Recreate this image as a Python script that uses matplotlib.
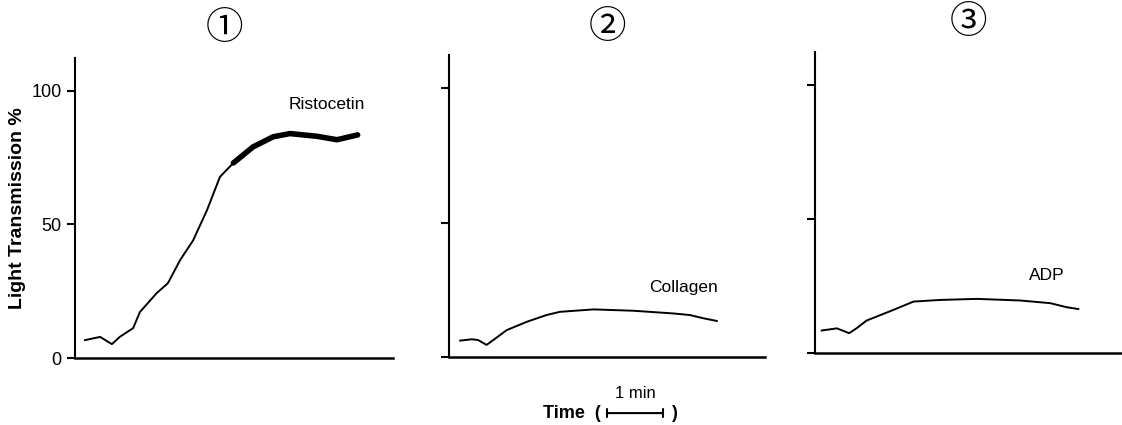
import matplotlib.pyplot as plt
import numpy as np
from matplotlib.transforms import blended_transform_factory

plt.rcParams['font.family'] = ['Liberation Sans', 'DejaVu Sans']

# time in minutes, light transmission in %
t_risto = [0.18, 0.45, 0.66, 0.80, 1.04, 1.16, 1.46, 1.66, 1.88, 2.11, 2.36,
           2.59, 2.83, 3.18, 3.54, 3.84, 4.32, 4.68, 5.05]
v_risto = [6.7, 7.9, 5.2, 7.9, 11.2, 17.2, 24.3, 28.0, 36.7, 44.0, 55.4,
           67.8, 73.0, 79.0, 82.8, 84.0, 83.0, 81.7, 83.5]

t_coll = [0.20, 0.41, 0.52, 0.67, 0.79, 1.03, 1.39, 1.74, 1.98, 2.58, 3.29,
          4.00, 4.30, 4.54, 4.78]
v_coll = [6.1, 6.6, 6.3, 4.5, 6.3, 10.0, 13.1, 15.6, 16.8, 17.7, 17.2,
          16.2, 15.6, 14.4, 13.4]

t_adp = [0.12, 0.39, 0.61, 0.74, 0.92, 1.40, 1.76, 2.23, 2.89, 3.66, 4.20,
         4.49, 4.70]
v_adp = [8.4, 9.2, 7.4, 9.2, 12.1, 16.1, 19.2, 19.8, 20.2, 19.6, 18.6,
         17.1, 16.4]

panels = ["\u2460", "\u2461", "\u2462"]
agents = ["Ristocetin", "Collagen", "ADP"]
label_pos = [(4.5, 95), (4.18, 26), (4.13, 29)]
yticks = [0, 50, 100]
ytick_labels = ["0", "50", "100"]

fig = plt.figure(figsize=(11.22, 4.25), dpi=100)
rects = [
    [0.0668, 0.1576, 0.2834, 0.706],
    [0.4002, 0.1600, 0.2816, 0.7106],
    [0.7264, 0.1694, 0.2736, 0.708],
]
title_y = [0.934, 0.936, 0.948]
xmax = [5.68, 5.64, 5.48]
series = [(t_risto, v_risto), (t_coll, v_coll), (t_adp, v_adp)]

axes = []
for i, rect in enumerate(rects):
    ax = fig.add_axes(rect)
    t, v = series[i]
    ax.plot(t, v, color="black", lw=1.4)
    if i == 0:
        # noisy plateau shows as a thick band
        t_arr = np.array(t)
        m = t_arr >= 2.83
        ax.plot(t_arr[m], np.array(v)[m], color="black", lw=4,
                solid_capstyle="round")
    ax.set_xlim(0, xmax[i])
    ax.set_ylim(0, 112.3)
    ax.spines["top"].set_visible(False)
    ax.spines["right"].set_visible(False)
    ax.spines["left"].set_linewidth(1.5)
    ax.spines["bottom"].set_linewidth(1.8)
    ax.set_xticks([])
    ax.set_yticks(yticks)
    ax.tick_params(axis="y", direction="out", length=6, width=1.5)
    if i == 0:
        ax.set_yticklabels(ytick_labels, fontsize=13)
        ax.set_ylabel("Light Transmission %", fontsize=14, fontweight="bold",
                      labelpad=4)
    else:
        ax.set_yticklabels([])
    lx, ly = label_pos[i]
    ax.text(lx, ly, agents[i], fontsize=12.5, ha="center", va="center")
    cx = rect[0] + rect[2] * 0.47 if i == 0 else rect[0] + rect[2] * 0.5
    fig.text(cx, title_y[i], panels[i], fontsize=27, ha="center", va="center",
             family=["Noto Sans CJK JP", "DejaVu Sans"])
    axes.append(ax)

# x-axis label with 1 min scale bar
tr = blended_transform_factory(axes[1].transData, fig.transFigure)
bar_start = 2.82
axes[1].annotate("", xy=(bar_start, 0.028), xytext=(bar_start + 1, 0.028),
                 xycoords=tr, textcoords=tr,
                 arrowprops=dict(arrowstyle="|-|,widthA=0.3,widthB=0.3",
                                 lw=1.5, color="black", shrinkA=0, shrinkB=0),
                 annotation_clip=False)
fig.text(bar_start + 0.5, 0.075, "1 min", transform=tr, fontsize=12,
         ha="center", va="center")
fig.text(bar_start - 0.12, 0.028, "Time  (", transform=tr, fontsize=13,
         fontweight="bold", ha="right", va="center")
fig.text(bar_start + 1.15, 0.028, ")", transform=tr, fontsize=13,
         fontweight="bold", ha="left", va="center")

fig.savefig("out.png", dpi=100)
